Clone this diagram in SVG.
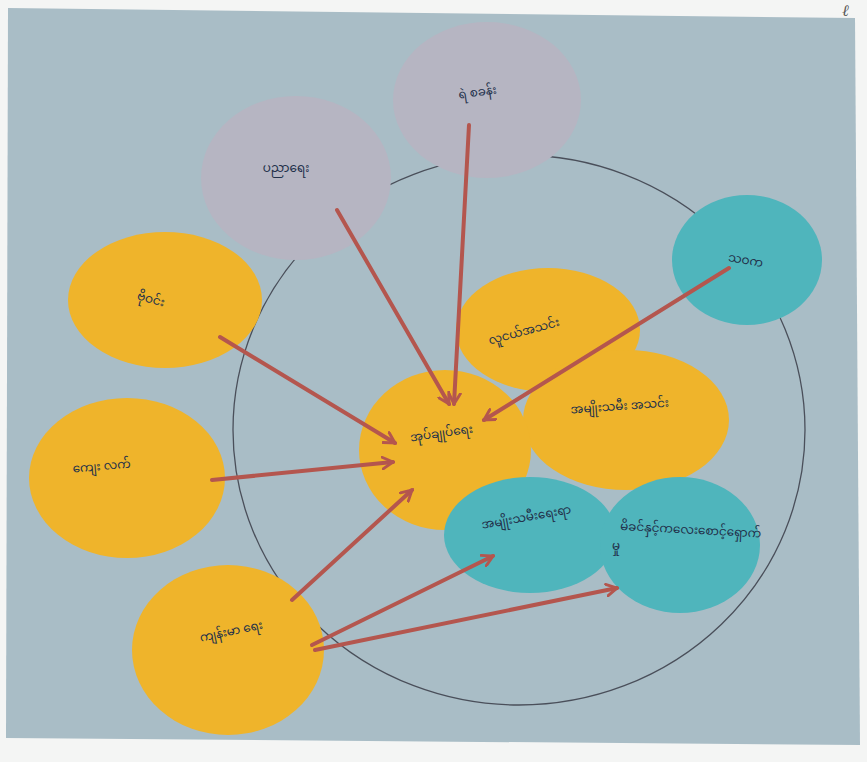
<svg xmlns="http://www.w3.org/2000/svg" width="867" height="762" viewBox="0 0 867 762">
<defs>
<style>
.gray{fill:#b6b5c2}
.teal{fill:#4fb5bc}
.yel{fill:#efb42b}
.t{font-family:"Noto Sans Myanmar","Padauk","Myanmar Text","Noto Sans",sans-serif;font-size:12px;fill:#22304a}
.arr{stroke:#b4564e;stroke-width:4;fill:none;stroke-linecap:round;marker-end:url(#ah)}
</style>
<marker id="ah" viewBox="0 0 12 12" refX="10" refY="6" markerWidth="14" markerHeight="14" markerUnits="userSpaceOnUse" orient="auto">
<path d="M1,1 L10,6 L1,11" fill="none" stroke="#b4564e" stroke-width="2.5" stroke-linecap="round"/>
</marker>
</defs>
<rect x="0" y="0" width="867" height="762" fill="#f4f5f4"/>
<polygon points="8,8 855,18 860,745 6,738" fill="#a9bdc6"/>
<text x="842" y="16" font-family="Liberation Serif,serif" font-size="16" fill="#555" font-style="italic">ℓ</text>
<ellipse id="outer" cx="519" cy="430" rx="286" ry="275" fill="none" stroke="#4a4f5a" stroke-width="1.3"/>
<g id="n-police"><ellipse class="gray" cx="487" cy="100" rx="94" ry="78"/><text class="t" x="478" y="96" text-anchor="middle" transform="rotate(-8 478 96)">ရဲ စခန်း</text></g>
<g id="n-edu"><ellipse class="gray" cx="296" cy="178" rx="95" ry="82"/><text class="t" x="286" y="172" text-anchor="middle">ပညာရေး</text></g>
<g id="n-swk"><ellipse class="teal" cx="747" cy="260" rx="75" ry="65"/><text class="t" x="745" y="264" text-anchor="middle" transform="rotate(10 745 264)">သဝက</text></g>
<g id="n-y1"><ellipse class="yel" cx="165" cy="300" rx="97" ry="68"/><text class="t" x="150" y="303" text-anchor="middle" transform="rotate(15 150 303)">ဗိုဝင်း</text></g>
<g id="n-rural"><ellipse class="yel" cx="127" cy="478" rx="98" ry="80"/><text class="t" x="102" y="470" text-anchor="middle" transform="rotate(-5 102 470)">ကျေး လက်</text></g>
<g id="n-health"><ellipse class="yel" cx="228" cy="650" rx="96" ry="85"/><text class="t" x="232" y="635" text-anchor="middle" transform="rotate(-12 232 635)">ကျန်းမာ ရေး</text></g>
<g id="n-youth"><ellipse class="yel" cx="548" cy="330" rx="92" ry="62"/><text class="t" x="525" y="335" text-anchor="middle" transform="rotate(-15 525 335)">လူငယ်အသင်း</text></g>
<g id="n-women"><ellipse class="yel" cx="626" cy="420" rx="103" ry="70"/><text class="t" x="620" y="410" text-anchor="middle" transform="rotate(-4 620 410)">အမျိုးသမီး အသင်း</text></g>
<g id="n-admin"><ellipse class="yel" cx="445" cy="450" rx="86" ry="80"/><text class="t" x="442" y="437" text-anchor="middle" transform="rotate(-8 442 437)">အုပ်ချုပ်ရေး</text></g>
<g id="n-wa"><ellipse class="teal" cx="530" cy="535" rx="86" ry="58"/><text class="t" x="527" y="521" text-anchor="middle" transform="rotate(-10 527 521)">အမျိုးသမီးရေးရာ</text></g>
<g id="n-mch"><ellipse class="teal" cx="680" cy="545" rx="80" ry="68"/><text class="t" x="620" y="530" transform="rotate(3 620 530)">မိခင်နှင့်ကလေးစောင့်ရှောက်</text><text class="t" x="612" y="550">မှု</text></g>
<g id="connectors">
<line class="arr" x1="337" y1="210" x2="449" y2="404"/>
<line class="arr" x1="469" y1="125" x2="454" y2="404"/>
<line class="arr" x1="729" y1="268" x2="484" y2="420"/>
<line class="arr" x1="220" y1="337" x2="395" y2="443"/>
<line class="arr" x1="212" y1="480" x2="393" y2="462"/>
<line class="arr" x1="292" y1="600" x2="412" y2="490"/>
<line class="arr" x1="312" y1="645" x2="493" y2="556"/>
<line class="arr" x1="315" y1="650" x2="617" y2="588"/>
</g>
</svg>
